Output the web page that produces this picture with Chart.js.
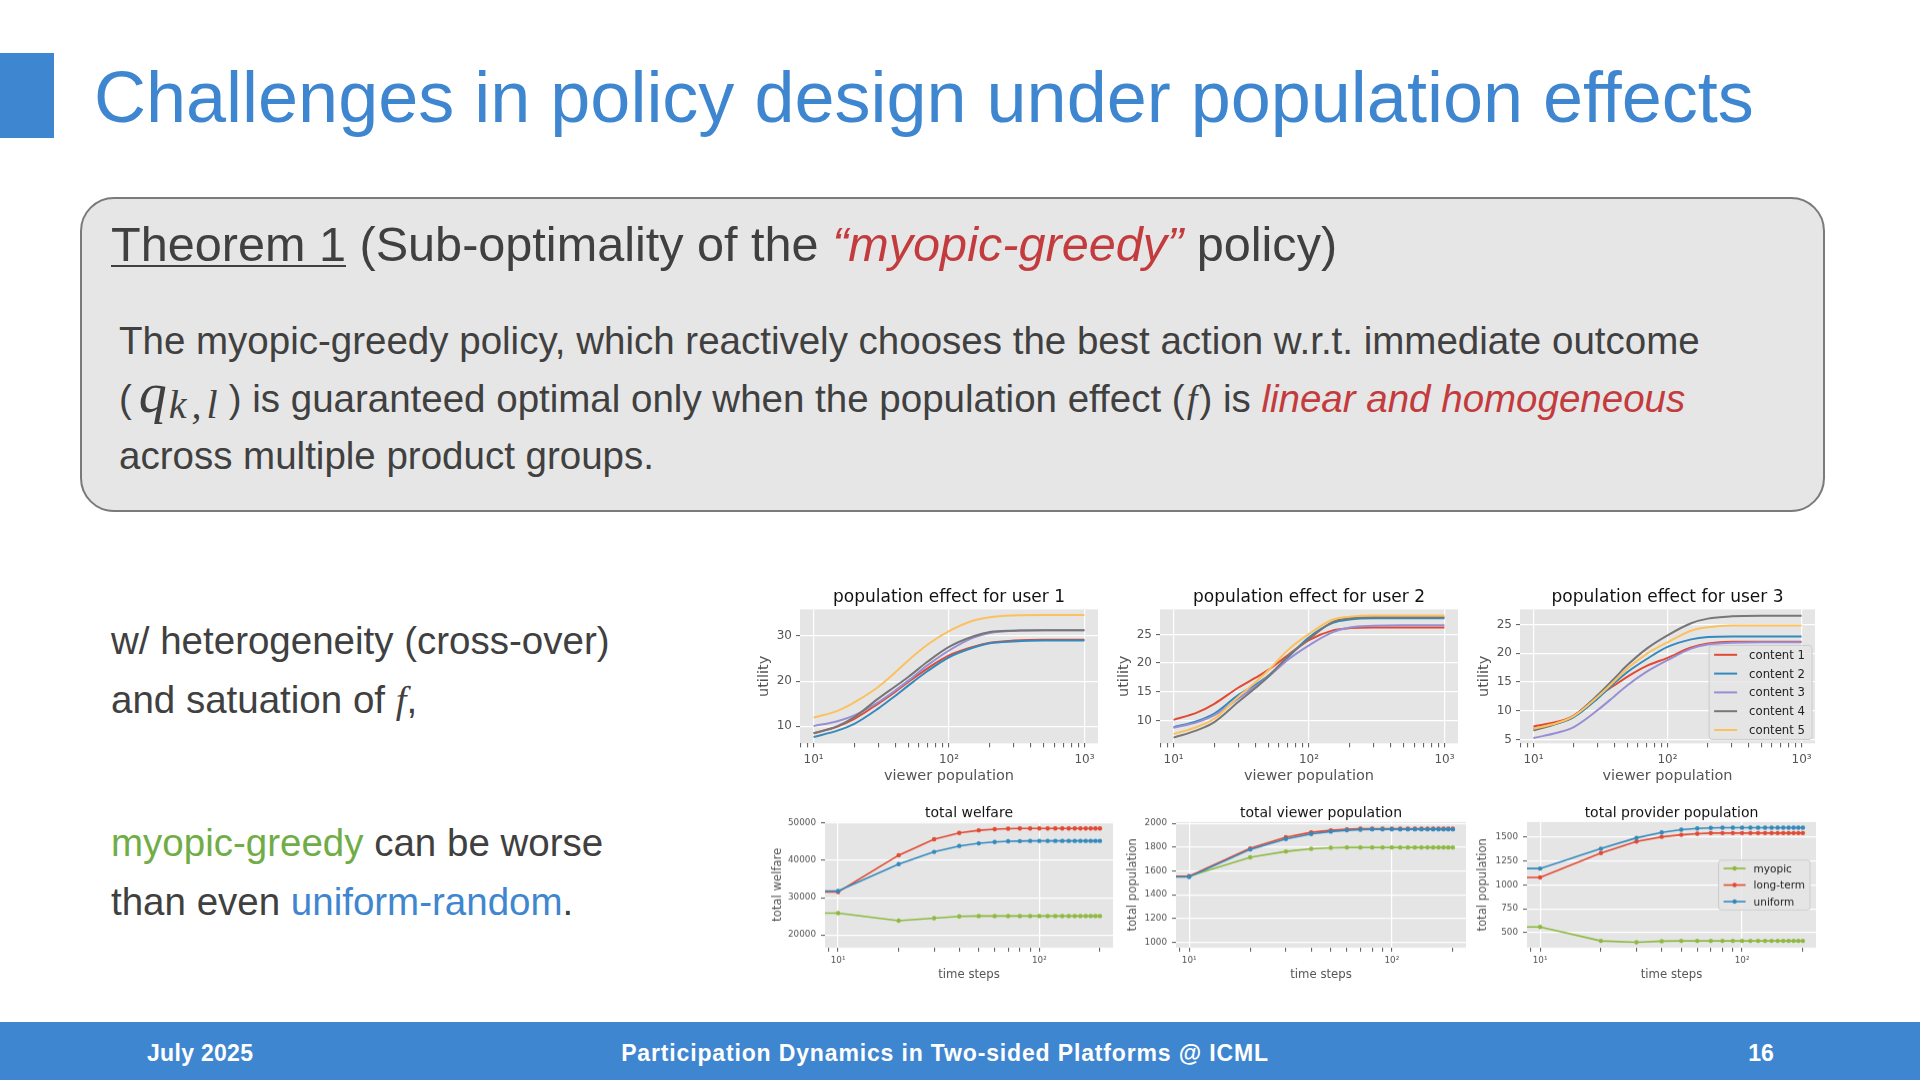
<!DOCTYPE html>
<html>
<head>
<meta charset="utf-8">
<script src="https://cdn.jsdelivr.net/npm/chart.js@4.4.1/dist/chart.umd.min.js"></script>
<style>
html, body { margin: 0; padding: 0; background: #fff; }
#slide { position: relative; width: 1920px; height: 1080px; overflow: hidden; font-family: "Liberation Sans", Arial, sans-serif; }
.abs { position: absolute; white-space: nowrap; }
.txt { font-size: 38.5px; line-height: 38.5px; color: #404040; }
.mi { font-family: "Liberation Serif", "DejaVu Serif", serif; font-style: italic; }
.red { color: #c33b3d; font-style: italic; }
.box { position: absolute; }
.foot { color: #fff; font-weight: bold; font-size: 23px; line-height: 23px; }
</style>
</head>
<body>
<div id="slide">
  <div class="abs" style="left:0;top:53px;width:54px;height:85px;background:#3f86d0"></div>
  <div class="abs" style="left:94px;top:61px;font-size:72px;line-height:72px;color:#3f86d0">Challenges in policy design under population effects</div>

  <div class="abs" style="left:80px;top:197px;width:1745px;height:315px;box-sizing:border-box;background:#e6e6e6;border:2.5px solid #7a7a7a;border-radius:34px"></div>
  <div class="abs" style="left:111px;top:220px;font-size:48.6px;line-height:48.6px;color:#404040"><span style="text-decoration:underline;text-underline-offset:4px;text-decoration-thickness:2px">Theorem 1</span> (Sub-optimality of the <span class="red">“myopic-greedy”</span> policy)</div>
  <div class="abs txt" style="left:119px;top:322.4px">The myopic-greedy policy, which reactively chooses the best action w.r.t. immediate outcome</div>
  <div class="abs txt" style="left:119px;top:380.4px">(<span class="mi" style="font-size:56px;line-height:0;margin-left:7px">q</span><span class="mi" style="font-size:40px;line-height:0;letter-spacing:5px;margin-left:2px;position:relative;top:6px">k,l</span><span style="margin-left:6px">) is guaranteed optimal only when the population effect (<span class="mi" style="margin:0 2px">f</span>) is <span class="red">linear and homogeneous</span></span></div>
  <div class="abs txt" style="left:119px;top:437.4px">across multiple product groups.</div>

  <div class="abs txt" style="left:111px;top:622.4px">w/ heterogeneity (cross-over)</div>
  <div class="abs txt" style="left:111px;top:681.4px">and satuation of <span class="mi">f</span>,</div>
  <div class="abs txt" style="left:111px;top:824.4px"><span style="color:#70ad47">myopic-greedy</span> can be worse</div>
  <div class="abs txt" style="left:111px;top:883.4px">than even <span style="color:#3f86d0">uniform-random</span>.</div>

  <div class="box" style="left:752px;top:583.6px;width:351px;height:206.4px"><canvas id="c1"></canvas></div>
  <div class="box" style="left:1112px;top:583.6px;width:351px;height:206.4px"><canvas id="c2"></canvas></div>
  <div class="box" style="left:1472px;top:583.6px;width:348px;height:206.4px"><canvas id="c3"></canvas></div>
  <div class="box" style="left:768px;top:800.2px;width:350px;height:184.8px"><canvas id="c4"></canvas></div>
  <div class="box" style="left:1124px;top:800.2px;width:347px;height:184.8px"><canvas id="c5"></canvas></div>
  <div class="box" style="left:1475px;top:800.2px;width:346px;height:184.8px"><canvas id="c6"></canvas></div>

  <div class="abs" style="left:0;top:1022px;width:1920px;height:58px;background:#3f86d0"></div>
  <div class="abs foot" style="left:147px;top:1041.5px;letter-spacing:0.3px">July 2025</div>
  <div class="abs foot" style="left:945px;top:1041.5px;transform:translateX(-50%);letter-spacing:0.85px">Participation Dynamics in Two-sided Platforms @ ICML</div>
  <div class="abs foot" style="left:1761px;top:1041.5px;transform:translateX(-50%)">16</div>
</div>
<script>
// ── data ───────────────────────────────────────────────────────────────────
const popX = [10, 15, 20, 30, 40, 50, 70, 100, 150, 200, 300, 500, 1000];
const contentLabels = ['content 1', 'content 2', 'content 3', 'content 4', 'content 5'];

const user1 = [
    [8.4, 9.9, 11.6, 15.0, 17.6, 19.8, 22.9, 25.7, 27.6, 28.5, 29.0, 29.2, 29.2],
    [7.6, 9.0, 10.5, 13.9, 16.7, 19.0, 22.3, 25.3, 27.4, 28.4, 28.8, 29.0, 29.0],
    [10.0, 11.1, 12.4, 15.3, 17.9, 20.1, 23.6, 26.8, 29.6, 30.7, 31.2, 31.3, 31.3],
    [8.4, 10.0, 12.0, 16.1, 18.8, 20.9, 24.4, 27.6, 29.9, 30.9, 31.2, 31.3, 31.3],
    [11.9, 13.4, 15.3, 18.7, 21.9, 24.6, 28.2, 31.1, 33.4, 34.2, 34.6, 34.7, 34.7],
];
const user2 = [
    [10.1, 11.4, 12.9, 15.7, 17.4, 18.8, 21.4, 24.0, 25.7, 26.1, 26.2, 26.2, 26.2],
    [8.8, 9.9, 11.2, 14.4, 16.2, 17.8, 21.0, 24.5, 27.0, 27.6, 27.8, 27.8, 27.8],
    [8.7, 9.7, 10.9, 13.8, 15.9, 17.6, 20.6, 23.1, 25.4, 26.2, 26.5, 26.6, 26.6],
    [7.0, 8.3, 9.7, 13.2, 15.6, 17.6, 21.2, 24.2, 27.2, 27.8, 28.0, 28.0, 28.0],
    [7.6, 8.9, 10.3, 14.1, 16.6, 18.7, 22.3, 25.1, 27.6, 28.1, 28.3, 28.3, 28.3],
];
const user3 = [
    [7.3, 8.1, 9.2, 12.5, 14.4, 15.9, 17.8, 19.2, 21.0, 21.7, 22.0, 22.0, 22.0],
    [6.9, 7.8, 8.9, 12.1, 14.8, 16.7, 19.0, 21.1, 22.4, 22.8, 22.9, 22.9, 22.9],
    [5.3, 6.2, 7.2, 10.1, 12.5, 14.4, 16.8, 18.8, 20.8, 21.5, 21.8, 21.9, 21.9],
    [6.6, 7.8, 9.1, 12.7, 15.6, 17.9, 20.8, 23.1, 25.2, 26.0, 26.4, 26.5, 26.5],
    [6.9, 7.9, 9.1, 12.4, 15.1, 17.3, 19.9, 21.9, 23.9, 24.5, 24.8, 24.8, 24.8],
];

// first entry is the initial state (drawn off to the left of the log axis)
const timeX = [1, 10, 20, 30, 40, 50, 60, 70, 80, 90, 100, 110, 120, 130, 140, 150, 160, 170, 180, 190, 200];
const policyLabels = ['myopic', 'long-term', 'uniform'];

const welfareMyopic  = [25850, 25850, 23800, 24500, 24950, 25050, 25050, 25050, 25050, 25050, 25050, 25050, 25050, 25050, 25050, 25050, 25050, 25050, 25050, 25050, 25050];
const welfareLong    = [31600, 31500, 41400, 45700, 47400, 48100, 48400, 48550, 48600, 48600, 48600, 48600, 48600, 48600, 48600, 48600, 48600, 48600, 48600, 48600, 48600];
const welfareUniform = [31600, 31800, 39000, 42300, 43900, 44600, 44950, 45150, 45200, 45250, 45250, 45250, 45250, 45250, 45250, 45250, 45250, 45250, 45250, 45250, 45250];

const viewerMyopic  = [1555, 1555, 1713, 1763, 1786, 1794, 1797, 1797, 1797, 1797, 1797, 1797, 1797, 1797, 1797, 1797, 1797, 1797, 1797, 1797, 1797];
const viewerLong    = [1555, 1555, 1789, 1882, 1924, 1941, 1949, 1955, 1955, 1955, 1955, 1955, 1955, 1955, 1955, 1955, 1955, 1955, 1955, 1955, 1955];
const viewerUniform = [1550, 1549, 1780, 1868, 1910, 1930, 1941, 1946, 1949, 1949, 1949, 1949, 1949, 1949, 1949, 1949, 1949, 1949, 1949, 1949, 1949];

const providerMyopic  = [567, 560, 415, 401, 412, 415, 415, 415, 415, 415, 415, 415, 415, 415, 415, 415, 415, 415, 415, 415, 415];
const providerLong    = [1077, 1077, 1331, 1451, 1500, 1521, 1532, 1539, 1539, 1539, 1539, 1539, 1539, 1539, 1539, 1539, 1539, 1539, 1539, 1539, 1539];
const providerUniform = [1169, 1169, 1377, 1489, 1546, 1574, 1588, 1592, 1595, 1595, 1595, 1595, 1595, 1595, 1595, 1595, 1595, 1595, 1595, 1595, 1595];

// tick positions
const popTicks  = [8, 9, 10, 20, 30, 40, 50, 60, 70, 80, 90, 100, 200, 300, 400, 500, 600, 700, 800, 900, 1000];
const timeTicks = [9, 10, 20, 30, 40, 50, 60, 70, 80, 90, 100, 200];
const yTicksU1 = [10, 20, 30];
const yTicksU2 = [10, 15, 20, 25];
const yTicksU3 = [5, 10, 15, 20, 25];
const yTicksWelfare = [20000, 30000, 40000, 50000];
const yTicksViewer = [1000, 1200, 1400, 1600, 1800, 2000];
const yTicksProvider = [500, 750, 1000, 1250, 1500];

// ── styling ────────────────────────────────────────────────────────────────
const contentColors = ['#E24A33', '#348ABD', '#988ED5', '#777777', '#FBC15E'];
const policyColors = ['#8EBA42', '#E24A33', '#348ABD'];

Chart.defaults.font.family = '"DejaVu Sans", sans-serif';
Chart.defaults.animation = false;

const plotBg = {
    id: 'plotBg',
    beforeDraw(chart) {
        const { ctx, chartArea: a } = chart;
        ctx.save();
        ctx.fillStyle = '#e5e5e5';
        ctx.fillRect(a.left, a.top, a.width, a.height);
        ctx.restore();
    },
};

// legend drawn inside the axes, like matplotlib's
const boxLegend = {
    id: 'boxLegend',
    afterDatasetsDraw(chart, args, o) {
        if (!o || !o.show) return;
        const { ctx, chartArea: a } = chart;
        const items = [...chart.data.datasets].sort((p, q) => p.legendIdx - q.legendIdx);
        ctx.save();
        ctx.font = o.size + 'px "DejaVu Sans"';
        const tw = Math.max(...items.map(d => ctx.measureText(d.label).width));
        const w = o.padL + o.lineLen + o.gap + tw + o.padR;
        const h = items.length * o.rowH + o.padY * 2;
        const x = a.right - o.right - w;
        const y = o.top != null ? a.top + o.top : a.bottom - o.bottom - h;
        ctx.fillStyle = 'rgba(229,229,229,0.85)';
        ctx.strokeStyle = '#cccccc';
        ctx.lineWidth = 1;
        ctx.beginPath();
        ctx.roundRect(x, y, w, h, 3);
        ctx.fill();
        ctx.stroke();
        items.forEach((d, i) => {
            const cy = y + o.padY + o.rowH * (i + 0.5);
            ctx.strokeStyle = d.borderColor;
            ctx.lineWidth = d.borderWidth;
            ctx.beginPath();
            ctx.moveTo(x + o.padL, cy);
            ctx.lineTo(x + o.padL + o.lineLen, cy);
            ctx.stroke();
            if (o.marker) {
                ctx.fillStyle = d.borderColor;
                ctx.beginPath();
                ctx.arc(x + o.padL + o.lineLen / 2, cy, o.marker, 0, Math.PI * 2);
                ctx.fill();
            }
            ctx.fillStyle = '#222';
            ctx.textBaseline = 'middle';
            ctx.fillText(d.label, x + o.padL + o.lineLen + o.gap, cy + 1);
        });
        ctx.restore();
    },
};

const isPow10 = v => Math.abs(Math.log10(v) - Math.round(Math.log10(v))) < 1e-9;
const sup = { 0: '⁰', 1: '¹', 2: '²', 3: '³' };

function logX(min, max, vals, s) {
    return {
        type: 'logarithmic', min, max,
        afterBuildTicks: ax => { ax.ticks = vals.filter(v => v >= min && v <= max).map(v => ({ value: v })); },
        afterFit: ax => { ax.height = s.h; },
        ticks: {
            autoSkip: false, maxRotation: 0, color: '#555', font: { size: s.tick }, padding: s.tickPad,
            callback: v => isPow10(v) ? '10' + sup[Math.round(Math.log10(v))] : '',
        },
        grid: {
            color: c => (c.tick && isPow10(c.tick.value)) ? '#ffffff' : 'rgba(0,0,0,0)',
            lineWidth: 1.2, tickColor: '#555', tickLength: 4, tickWidth: 1,
        },
        border: { display: false },
        title: { display: true, text: s.title, color: '#555', font: { size: s.titleSize }, padding: { top: 0, bottom: s.titlePad } },
    };
}

function linY(min, max, vals, s) {
    return {
        type: 'linear', min, max,
        afterBuildTicks: ax => { ax.ticks = vals.map(v => ({ value: v })); },
        afterFit: ax => { ax.width = s.w; },
        ticks: { color: '#555', font: { size: s.tick }, padding: s.tickPad, callback: v => String(v) },
        grid: { color: '#ffffff', lineWidth: 1.2, tickColor: '#555', tickLength: 4, tickWidth: 1 },
        border: { display: false },
        title: { display: true, text: s.title, color: '#555', font: { size: s.titleSize }, padding: { top: s.titlePad, bottom: 0 } },
    };
}

function titleOpt(text, size, pt, pb) {
    return { display: true, text, color: '#111', fullSize: false, font: { size, weight: 'normal' }, padding: { top: pt, bottom: pb } };
}

// ── population effect charts ───────────────────────────────────────────────
function popChart(id, title, series, yMin, yMax, yTicks, legend) {
    return new Chart(document.getElementById(id), {
        type: 'line',
        data: {
            datasets: series.map((vals, i) => ({
                label: contentLabels[i],
                legendIdx: i,
                data: popX.map((x, j) => ({ x, y: vals[j] })),
                borderColor: contentColors[i],
                borderWidth: 2,
                pointRadius: 0,
                cubicInterpolationMode: 'monotone',
                order: series.length - i,
            })),
        },
        options: {
            responsive: true,
            maintainAspectRatio: false,
            layout: { padding: { right: 5 } },
            plugins: {
                legend: { display: false },
                tooltip: { enabled: false },
                title: titleOpt(title, 17, 3, 2),
                boxLegend: legend,
            },
            scales: {
                x: logX(7.94, 1259, popTicks, { h: 47, tick: 12, tickPad: 5, title: 'viewer population', titleSize: 14.5, titlePad: 5 }),
                y: linY(yMin, yMax, yTicks, { w: 48, tick: 12, tickPad: 4, title: 'utility', titleSize: 14.5, titlePad: 4 }),
            },
        },
        plugins: [plotBg, boxLegend],
    });
}

popChart('c1', 'population effect for user 1', user1, 6.16, 35.93, yTicksU1, { show: false });
popChart('c2', 'population effect for user 2', user2, 5.99, 29.36, yTicksU2, { show: false });
popChart('c3', 'population effect for user 3', user3, 4.36, 27.6, yTicksU3,
    { show: true, size: 11.7, rowH: 18.8, padY: 0, padL: 5, padR: 7, lineLen: 23, gap: 12, right: 3, bottom: 4 });

// ── time series charts ─────────────────────────────────────────────────────
function timeChart(id, title, series, yMin, yMax, yTicks, yTitle, yW, yTitlePad, legend) {
    return new Chart(document.getElementById(id), {
        type: 'line',
        data: {
            datasets: series.map((vals, i) => ({
                label: policyLabels[i],
                legendIdx: i,
                data: timeX.map((x, j) => ({ x, y: vals[j] })),
                borderColor: policyColors[i],
                backgroundColor: policyColors[i],
                borderWidth: 1.6,
                pointRadius: 2.2,
                pointBorderWidth: 0,
                order: series.length - i,
            })),
        },
        options: {
            responsive: true,
            maintainAspectRatio: false,
            layout: { padding: { right: 5 } },
            plugins: {
                legend: { display: false },
                tooltip: { enabled: false },
                title: titleOpt(title, 14, 4.5, 0.5),
                boxLegend: legend,
            },
            scales: {
                x: logX(8.61, 232.3, timeTicks, { h: 38, tick: 8.8, tickPad: 4, title: 'time steps', titleSize: 11.7, titlePad: 4 }),
                y: linY(yMin, yMax, yTicks, { w: yW, tick: 8.8, tickPad: 5, title: yTitle, titleSize: 11.7, titlePad: yTitlePad }),
            },
        },
        plugins: [plotBg, boxLegend],
    });
}

timeChart('c4', 'total welfare', [welfareMyopic, welfareLong, welfareUniform],
    16570, 50350, yTicksWelfare, 'total welfare', 57, 3, { show: false });
timeChart('c5', 'total viewer population', [viewerMyopic, viewerLong, viewerUniform],
    955, 2011, yTicksViewer, 'total population', 52, 2, { show: false });
timeChart('c6', 'total provider population', [providerMyopic, providerLong, providerUniform],
    345, 1655, yTicksProvider, 'total population', 52, 1,
    { show: true, size: 10.5, rowH: 16.5, padY: 0, padL: 5, padR: 5, lineLen: 22, gap: 8, right: 6, top: 38, marker: 2.2 });
</script>
</body>
</html>
